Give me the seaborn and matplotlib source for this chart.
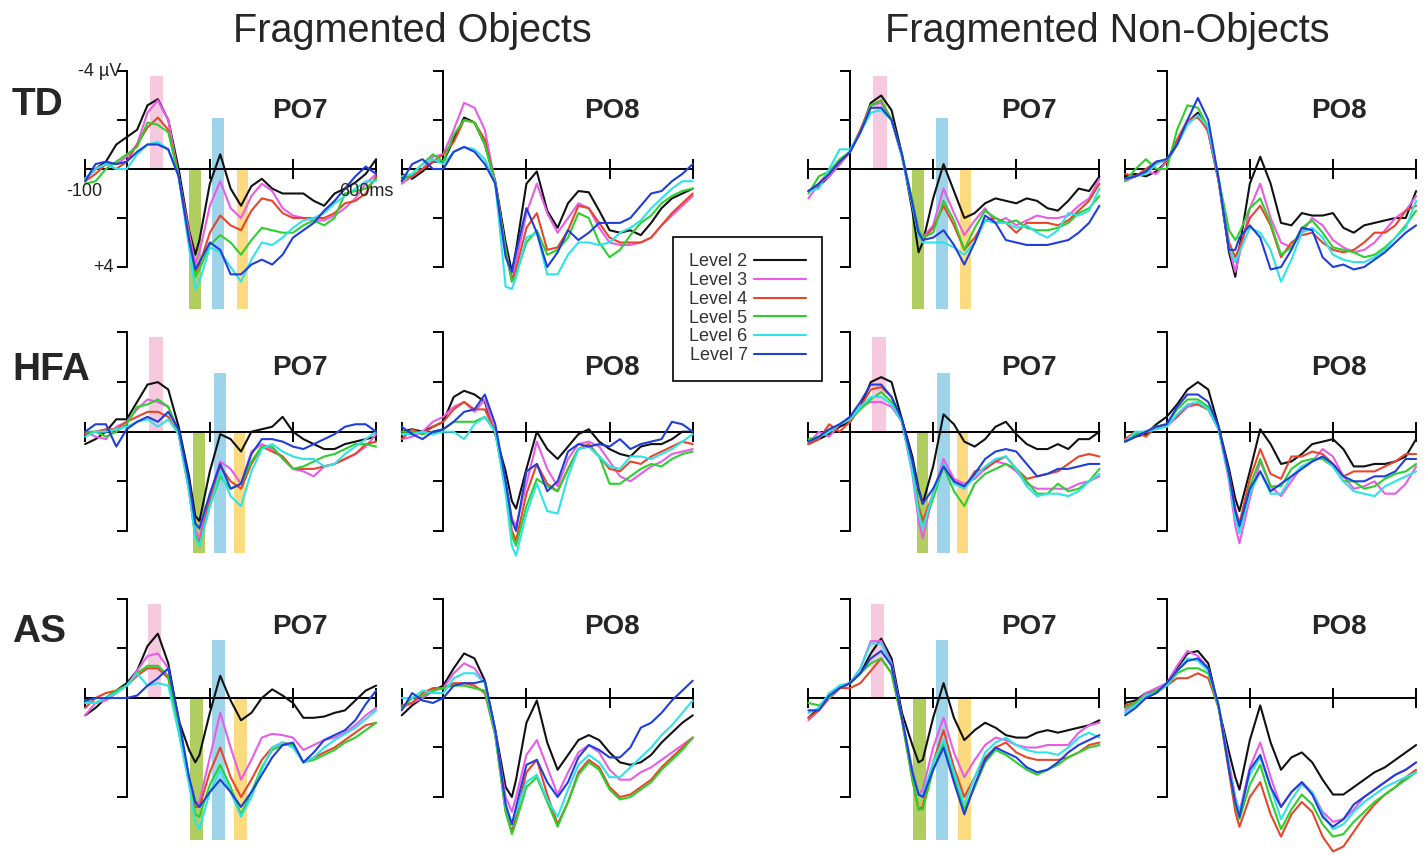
import numpy as np
import pandas as pd
import matplotlib
matplotlib.use("Agg")
import matplotlib.pyplot as plt
from matplotlib.lines import Line2D
import seaborn as sns

# ---------------- data ----------------
times = [-100, -75, -50, -25, 0, 25, 50, 75, 100, 125, 150, 165, 175, 200, 225, 250,
         275, 300, 325, 350, 375, 400, 425, 450, 475, 500, 525, 550, 575, 600]
levels = ["Level 2", "Level 3", "Level 4", "Level 5", "Level 6", "Level 7"]
level_colors = ["#111111", "#e85ce8", "#e8452a", "#2cd02c", "#2ee3e8", "#1f3edb"]

groups = ["TD", "HFA", "AS"]
conditions = ["Fragmented Objects", "Fragmented Non-Objects"]
electrodes = ["PO7", "PO8", "PO7", "PO8"]

td_obj_po7 = [
    [0.4, 0.0, -0.3, -1.0, -1.3, -1.6, -2.6, -2.85, -2.0, 0.0, 2.5, 3.5, 2.9, 0.6, -0.6, 0.8, 1.5, 0.7, 0.4, 0.8, 1.0, 1.0, 1.0, 1.3, 1.5, 1.0, 0.8, 0.55, 0.2, -0.4],
    [0.4, 0.0, -0.2, -0.2, -0.5, -1.0, -2.3, -2.8, -2.0, 0.3, 2.6, 3.9, 3.4, 1.5, 0.5, 1.6, 2.0, 1.1, 0.6, 0.9, 1.6, 1.9, 2.0, 2.1, 2.1, 1.9, 1.6, 1.2, 0.6, 0.2],
    [0.5, 0.2, -0.2, 0.0, -0.3, -1.0, -1.7, -2.1, -1.6, 0.3, 2.8, 4.2, 3.9, 2.6, 1.9, 2.3, 2.5, 1.7, 1.2, 1.3, 1.8, 2.0, 2.0, 2.0, 2.0, 1.8, 1.4, 1.3, 1.0, 0.3],
    [0.6, 0.5, 0.0, -0.3, -0.6, -0.9, -1.9, -1.8, -1.5, 0.3, 2.9, 4.4, 4.1, 3.1, 2.7, 3.0, 3.5, 2.9, 2.4, 2.5, 2.6, 2.6, 2.3, 2.1, 2.3, 2.0, 1.0, 0.9, 0.8, 0.4],
    [0.4, 0.0, -0.2, 0.0, 0.0, -0.6, -1.0, -1.1, -0.8, 0.3, 3.2, 4.9, 4.6, 3.2, 3.4, 4.0, 4.6, 3.7, 3.0, 3.1, 2.8, 2.4, 2.1, 2.0, 1.8, 1.4, 1.1, 0.8, 0.5, 0.5],
    [0.5, -0.2, -0.3, -0.2, -0.3, -0.7, -1.0, -1.0, -0.8, 0.3, 2.9, 4.1, 3.8, 3.0, 3.3, 4.3, 4.3, 3.9, 3.7, 3.9, 3.5, 2.8, 2.5, 2.2, 1.7, 1.3, 0.8, 0.3, -0.1, 0.2],
]
td_obj_po8 = [
    [0.2, 0.4, 0.1, -0.3, -0.3, -1.2, -2.1, -1.9, -1.0, 0.5, 3.0, 4.2, 3.3, 0.6, 0.1, 1.7, 2.4, 1.4, 0.9, 0.95, 1.7, 2.5, 2.6, 2.5, 2.7, 2.2, 1.6, 1.2, 1.0, 0.8],
    [0.6, 0.3, 0.0, -0.5, -0.6, -1.6, -2.7, -2.5, -1.6, 0.6, 3.4, 4.6, 3.8, 1.8, 0.6, 1.8, 2.6, 2.0, 1.4, 1.6, 2.4, 3.0, 3.1, 3.1, 3.0, 2.8, 2.3, 1.9, 1.5, 1.1],
    [0.4, 0.3, 0.0, -0.3, -0.6, -1.1, -2.0, -1.9, -1.2, 0.6, 3.3, 4.5, 4.1, 2.4, 1.8, 3.3, 3.2, 2.5, 1.5, 1.6, 2.2, 2.8, 3.0, 3.0, 3.0, 2.8, 2.3, 1.8, 1.4, 1.0],
    [0.5, 0.2, -0.2, -0.6, -0.3, -1.4, -2.0, -1.9, -1.0, 0.6, 3.3, 4.6, 4.3, 3.0, 2.5, 3.5, 3.3, 2.8, 1.8, 2.0, 3.0, 3.6, 3.3, 2.7, 2.2, 1.9, 1.4, 1.1, 0.9, 0.8],
    [0.3, 0.2, -0.2, -0.4, -0.2, -0.7, -0.9, -0.8, -0.4, 0.6, 4.8, 4.9, 4.4, 2.8, 2.6, 4.3, 4.3, 3.5, 3.0, 3.0, 3.1, 3.0, 2.6, 2.4, 2.1, 1.6, 1.2, 0.8, 0.5, 0.5],
    [0.5, -0.2, -0.4, 0.0, 0.0, -0.7, -0.9, -0.7, -0.2, 0.6, 3.6, 4.2, 3.4, 1.6, 2.6, 4.0, 3.4, 2.5, 2.9, 2.6, 2.2, 2.2, 2.2, 2.0, 1.5, 1.0, 0.9, 0.5, 0.2, -0.2],
]
td_non_po7 = [
    [0.9, 0.7, 0.3, -0.2, -0.7, -1.5, -2.7, -3.0, -2.4, -0.6, 1.7, 3.4, 3.0, 1.2, -0.2, 0.9, 2.0, 1.8, 1.4, 1.2, 1.3, 1.4, 1.2, 1.3, 1.6, 1.7, 1.3, 0.8, 0.9, 0.3],
    [1.2, 0.6, 0.3, -0.2, -0.7, -1.6, -2.6, -2.7, -2.0, -0.5, 1.3, 2.5, 2.8, 2.3, 0.8, 1.8, 2.7, 2.1, 1.6, 2.2, 2.0, 2.3, 2.1, 1.9, 2.0, 2.0, 1.9, 1.5, 1.2, 0.4],
    [0.9, 0.6, 0.1, -0.3, -0.7, -1.6, -2.6, -2.8, -2.0, -0.5, 1.4, 2.6, 2.9, 2.4, 1.5, 2.3, 3.3, 2.8, 2.1, 2.0, 2.2, 2.6, 2.2, 2.2, 2.2, 2.3, 2.1, 1.7, 1.3, 0.6],
    [1.0, 0.3, 0.1, -0.4, -0.7, -1.5, -2.6, -2.8, -2.0, -0.6, 1.3, 2.5, 2.8, 2.6, 1.3, 2.1, 3.3, 2.4, 1.7, 2.0, 2.2, 2.1, 2.4, 2.5, 2.5, 2.4, 2.2, 1.8, 1.6, 1.1],
    [0.9, 0.8, 0.0, -0.8, -0.8, -1.5, -2.3, -2.4, -2.0, -0.5, 1.5, 2.7, 3.0, 3.0, 3.0, 3.2, 3.5, 3.0, 2.1, 2.2, 2.2, 2.4, 2.3, 2.6, 2.8, 2.5, 1.8, 1.9, 1.7, 0.8],
    [0.9, 0.6, 0.2, -0.3, -0.7, -1.5, -2.5, -2.5, -2.0, -0.6, 1.4, 2.6, 2.9, 2.8, 2.5, 3.1, 3.9, 3.0, 1.9, 2.2, 2.9, 3.0, 3.1, 3.1, 3.1, 3.0, 2.9, 2.6, 2.2, 1.5],
]
td_non_po8 = [
    [0.3, 0.2, 0.3, 0.1, -0.3, -1.0, -1.9, -2.3, -1.5, 0.5, 3.4, 4.4, 3.2, 0.6, -0.5, 0.6, 2.2, 2.3, 1.8, 1.9, 1.9, 1.8, 2.4, 2.6, 2.3, 2.2, 2.1, 2.0, 2.0, 0.9],
    [0.5, 0.3, 0.1, 0.2, -0.3, -1.1, -1.9, -2.2, -1.5, 0.5, 3.2, 4.2, 3.5, 1.6, 0.6, 2.0, 3.0, 3.2, 2.6, 2.0, 2.3, 2.9, 3.2, 3.4, 3.3, 3.0, 2.5, 2.0, 1.7, 1.1],
    [0.2, 0.3, 0.0, -0.3, -0.3, -1.2, -2.0, -2.1, -1.6, 0.5, 3.0, 3.6, 3.2, 2.0, 1.5, 2.3, 3.6, 3.0, 2.7, 2.6, 3.0, 3.3, 3.4, 3.3, 3.0, 2.6, 2.6, 2.3, 1.7, 1.5],
    [0.5, 0.0, -0.4, 0.0, 0.0, -1.6, -2.6, -2.5, -1.7, 0.4, 2.5, 2.9, 2.6, 1.6, 1.2, 2.2, 3.5, 3.2, 2.4, 2.1, 2.6, 3.2, 3.3, 3.4, 3.6, 3.5, 3.2, 2.8, 2.3, 1.7],
    [0.4, 0.3, 0.2, -0.2, -0.4, -1.0, -1.8, -2.2, -1.7, 0.4, 3.2, 3.8, 3.4, 2.4, 2.6, 3.3, 4.6, 3.7, 2.6, 2.4, 2.8, 3.5, 3.7, 3.8, 3.8, 3.6, 3.3, 2.8, 2.4, 1.3],
    [0.4, 0.3, 0.1, -0.3, -0.4, -1.0, -2.0, -2.9, -2.0, 0.4, 3.3, 3.3, 2.8, 2.3, 2.8, 4.1, 4.0, 3.3, 2.4, 2.5, 3.6, 4.0, 3.9, 4.1, 4.0, 3.7, 3.4, 3.0, 2.6, 2.3],
]
hfa_obj_po7 = [
    [0.5, 0.3, 0.0, -0.5, -0.5, -1.2, -1.9, -2.0, -1.7, -0.2, 1.8, 3.4, 3.6, 1.6, 0.1, 0.3, 0.8, 0.0, -0.1, -0.2, -0.6, 0.0, 0.3, 0.5, 0.7, 0.7, 0.5, 0.4, 0.3, 0.2],
    [0.0, 0.2, 0.3, -0.2, -0.4, -0.9, -1.3, -1.2, -1.0, 0.0, 2.2, 4.0, 4.3, 2.6, 1.2, 1.5, 2.1, 0.8, 0.5, 0.7, 1.0, 1.5, 1.6, 1.8, 1.4, 1.3, 1.1, 0.9, 0.6, 0.1],
    [0.1, 0.0, -0.1, -0.1, -0.4, -0.6, -0.8, -0.8, -0.6, 0.1, 2.4, 4.2, 4.5, 2.8, 1.4, 2.0, 2.3, 1.3, 0.6, 0.8, 1.0, 1.5, 1.5, 1.5, 1.4, 1.3, 1.1, 0.9, 0.5, 0.4],
    [0.0, 0.0, 0.2, 0.0, -0.3, -1.0, -1.1, -1.3, -1.0, 0.0, 2.3, 4.2, 4.6, 3.0, 1.8, 2.3, 2.1, 1.2, 0.6, 0.6, 1.1, 1.5, 1.4, 1.2, 1.0, 0.9, 0.7, 0.5, 0.5, 0.6],
    [0.2, 0.0, 0.0, -0.1, -0.2, -0.4, -0.5, -0.2, -0.5, 0.1, 2.4, 4.3, 4.6, 3.0, 1.6, 2.6, 3.0, 1.6, 0.7, 0.5, 0.8, 1.0, 1.1, 1.1, 1.4, 1.3, 0.9, 0.6, 0.3, 0.0],
    [0.0, -0.3, -0.3, 0.6, -0.1, -0.4, -0.6, -0.4, -0.8, -0.1, 2.0, 3.7, 3.9, 2.5, 1.3, 2.3, 2.1, 0.9, 0.3, 0.3, 0.4, 0.6, 0.7, 0.5, 0.3, 0.1, -0.2, -0.3, -0.3, 0.0],
]
hfa_obj_po8 = [
    [0.0, -0.1, 0.0, -0.2, -0.4, -1.4, -1.65, -1.5, -1.2, 0.1, 1.6, 2.8, 3.1, 1.5, 0.0, 0.7, 1.1, 0.6, 0.1, -0.1, 0.4, 0.7, 0.9, 1.0, 0.6, 0.5, 0.5, 0.3, 0.0, 0.0],
    [0.3, 0.2, 0.0, -0.4, -0.6, -1.0, -1.2, -0.8, -1.3, 0.0, 2.0, 3.5, 3.8, 2.1, 0.4, 1.5, 2.2, 1.1, 0.5, 0.4, 0.6, 1.2, 1.8, 2.0, 1.7, 1.4, 1.2, 0.9, 0.8, 0.7],
    [0.3, -0.1, 0.1, -0.2, -0.4, -0.9, -1.2, -0.9, -0.9, 0.0, 2.3, 4.0, 4.4, 2.5, 1.3, 2.1, 2.4, 1.5, 0.7, 0.5, 1.0, 1.5, 1.6, 1.2, 1.3, 1.0, 0.8, 0.6, 0.4, 0.5],
    [0.0, 0.0, 0.1, 0.0, -0.1, -0.4, -0.4, -0.4, -0.6, 0.0, 2.3, 4.2, 4.6, 3.0, 1.9, 2.2, 2.4, 1.5, 0.7, 0.6, 1.0, 2.1, 2.1, 1.8, 1.5, 1.3, 1.4, 1.1, 0.9, 0.8],
    [0.1, 0.1, 0.0, 0.1, 0.0, 0.0, 0.3, -0.3, -0.6, 0.0, 2.5, 4.6, 5.0, 3.3, 2.1, 3.2, 3.3, 1.8, 0.7, 0.6, 1.0, 1.4, 1.5, 1.0, 1.0, 1.1, 0.9, 0.7, 0.4, 0.1],
    [-0.2, 0.1, 0.3, 0.0, -0.1, -0.4, -0.8, -0.9, -1.5, -0.3, 2.0, 3.6, 4.0, 1.6, 1.3, 2.4, 2.0, 0.8, 0.5, 0.6, 0.5, 0.6, 0.3, 0.7, 0.5, 0.4, 0.3, -0.4, -0.3, 0.0],
]
hfa_non_po7 = [
    [0.5, 0.3, 0.1, -0.2, -0.4, -1.0, -2.0, -2.2, -2.0, -0.5, 1.0, 2.3, 2.9, 1.4, -0.7, -0.3, 0.4, 0.6, 0.3, -0.2, -0.4, 0.1, 0.5, 0.7, 0.7, 0.5, 0.7, 0.3, 0.3, 0.0],
    [0.5, 0.0, 0.2, -0.3, -0.5, -1.0, -1.2, -1.2, -1.0, -0.4, 1.7, 3.6, 4.3, 2.5, 1.1, 1.9, 2.1, 1.9, 1.5, 1.2, 1.3, 1.6, 2.1, 2.3, 2.3, 2.3, 2.3, 2.1, 2.0, 1.8],
    [0.5, 0.3, -0.3, 0.0, -0.4, -1.0, -1.7, -1.8, -1.4, -0.4, 1.5, 3.0, 3.6, 2.5, 1.4, 2.0, 2.3, 1.6, 1.5, 1.2, 1.0, 1.5, 1.9, 1.8, 1.7, 1.6, 1.3, 1.0, 0.9, 1.0],
    [0.3, 0.2, 0.0, -0.3, -0.5, -0.9, -1.3, -1.6, -1.2, -0.4, 1.5, 3.2, 3.8, 2.7, 1.4, 2.4, 3.0, 2.1, 1.7, 1.5, 1.3, 1.5, 2.0, 2.5, 2.5, 2.1, 2.4, 2.3, 2.0, 1.5],
    [0.4, 0.2, 0.0, -0.3, -0.5, -1.0, -1.4, -1.4, -1.1, -0.4, 1.6, 3.3, 3.9, 2.5, 1.3, 2.1, 2.3, 1.8, 1.4, 1.1, 1.0, 1.5, 2.2, 2.6, 2.5, 2.5, 2.6, 2.4, 2.0, 1.7],
    [0.4, 0.2, -0.1, -0.3, -0.6, -1.2, -1.9, -1.9, -1.4, -0.5, 1.2, 2.4, 2.9, 2.3, 1.4, 2.0, 2.2, 1.7, 1.1, 0.8, 0.7, 0.8, 1.3, 1.8, 1.7, 1.5, 1.5, 1.4, 1.3, 1.3],
]
hfa_non_po8 = [
    [0.4, 0.2, 0.1, -0.3, -0.6, -1.1, -1.7, -2.0, -1.7, -0.2, 1.5, 2.7, 3.2, 1.6, -0.1, 0.5, 1.3, 1.2, 0.9, 0.5, 0.4, 0.3, 0.7, 1.4, 1.4, 1.3, 1.3, 1.2, 1.0, 0.3],
    [0.3, 0.1, 0.0, -0.2, -0.2, -0.6, -1.0, -1.1, -0.9, -0.1, 2.0, 3.8, 4.5, 2.7, 1.2, 2.2, 2.6, 2.0, 1.4, 1.2, 0.7, 1.0, 1.8, 2.3, 2.2, 2.0, 2.5, 2.5, 2.1, 1.4],
    [0.3, 0.0, 0.2, -0.2, -0.3, -0.6, -1.1, -1.1, -0.9, -0.1, 1.7, 3.1, 3.7, 1.9, 0.7, 1.7, 1.9, 1.0, 1.0, 0.8, 0.9, 1.3, 1.8, 1.6, 1.6, 1.6, 1.4, 1.2, 0.9, 0.9],
    [0.4, 0.1, 0.0, -0.2, -0.3, -0.9, -1.3, -1.3, -1.0, -0.1, 1.8, 3.4, 4.0, 2.2, 1.1, 2.2, 2.2, 1.5, 1.2, 1.1, 1.1, 1.4, 2.0, 2.0, 2.3, 2.2, 1.9, 1.7, 1.6, 1.3],
    [0.4, 0.0, 0.0, -0.1, -0.2, -0.7, -1.1, -1.2, -0.9, -0.1, 1.9, 3.5, 4.1, 2.5, 1.6, 2.5, 2.5, 1.8, 1.4, 1.2, 1.0, 1.4, 2.0, 2.4, 2.5, 2.6, 2.2, 2.0, 1.8, 1.6],
    [0.4, 0.2, 0.0, -0.2, -0.3, -1.0, -1.5, -1.5, -1.2, -0.2, 1.7, 3.2, 3.8, 2.3, 1.6, 2.4, 2.1, 1.8, 1.5, 1.2, 1.0, 1.3, 1.8, 2.0, 2.0, 1.8, 1.8, 1.6, 1.1, 1.1],
]
as_obj_po7 = [
    [0.7, 0.4, 0.0, -0.3, -0.6, -1.1, -2.1, -2.6, -1.4, 0.9, 2.1, 2.6, 2.3, 0.6, -0.9, 0.1, 0.9, 0.6, 0.0, -0.35, -0.1, 0.2, 0.8, 0.8, 0.75, 0.6, 0.5, 0.1, -0.3, -0.5],
    [0.7, 0.2, 0.1, -0.2, -0.5, -1.1, -1.7, -1.8, -1.2, 1.2, 3.2, 4.2, 4.2, 2.4, 0.6, 2.0, 3.3, 2.5, 1.6, 1.45, 1.5, 1.6, 2.1, 1.9, 1.7, 1.6, 1.4, 1.1, 0.7, 0.4],
    [0.4, 0.0, -0.2, -0.3, -0.5, -0.9, -1.2, -1.2, -0.8, 1.3, 3.3, 4.4, 4.4, 3.0, 2.0, 3.2, 4.0, 3.3, 2.5, 2.0, 1.8, 1.9, 2.6, 2.4, 2.2, 2.0, 1.7, 1.4, 1.1, 1.0],
    [0.1, 0.2, 0.0, -0.3, -0.5, -1.0, -1.3, -1.3, -0.9, 1.3, 3.4, 4.7, 4.8, 3.5, 2.7, 3.6, 4.7, 3.8, 2.8, 2.1, 1.9, 1.9, 2.6, 2.5, 2.3, 2.1, 1.8, 1.6, 1.3, 1.0],
    [0.2, 0.2, 0.0, -0.2, -0.5, -1.0, -0.5, -0.6, -0.5, 1.4, 3.5, 5.0, 5.3, 3.8, 2.9, 3.8, 4.8, 4.0, 2.9, 2.0, 1.8, 2.0, 2.6, 2.4, 2.0, 1.7, 1.45, 1.2, 0.85, 0.5],
    [0.1, 0.0, 0.0, 0.0, 0.0, -0.1, -0.5, -0.8, -1.2, 0.8, 3.2, 4.2, 4.4, 3.8, 3.3, 3.8, 4.4, 3.8, 3.1, 2.4, 1.9, 1.8, 2.6, 2.2, 1.7, 1.5, 1.3, 0.9, 0.25, -0.3],
]
as_obj_po8 = [
    [0.7, 0.3, 0.0, -0.3, -0.5, -1.2, -1.8, -1.6, -0.7, 1.3, 3.6, 4.0, 3.3, 1.0, 0.1, 1.8, 2.9, 2.3, 1.7, 1.5, 1.7, 2.2, 2.6, 2.7, 2.6, 2.3, 1.8, 1.4, 1.0, 0.7],
    [0.4, 0.2, 0.0, -0.3, -0.4, -1.0, -1.4, -1.2, -0.6, 1.4, 4.0, 4.6, 4.0, 2.3, 1.7, 2.8, 3.9, 3.0, 2.2, 1.9, 2.2, 2.9, 3.3, 3.3, 3.0, 2.8, 2.5, 2.2, 1.9, 1.6],
    [0.3, 0.2, -0.2, -0.4, -0.4, -0.6, -0.6, -0.5, -0.2, 1.5, 4.6, 5.4, 4.8, 3.0, 2.5, 3.9, 5.1, 4.2, 3.0, 2.5, 2.8, 3.6, 4.0, 3.9, 3.6, 3.3, 2.8, 2.4, 2.0, 1.6],
    [0.4, 0.0, -0.1, -0.3, -0.4, -0.5, -0.5, -0.4, -0.3, 1.5, 4.6, 5.5, 5.0, 3.6, 3.2, 4.2, 5.2, 4.2, 3.1, 2.6, 2.9, 3.7, 4.1, 4.0, 3.7, 3.4, 2.9, 2.5, 2.1, 1.6],
    [0.0, 0.0, -0.3, -0.2, -0.2, -0.8, -1.0, -1.0, -0.6, 1.4, 4.4, 5.1, 4.6, 3.4, 3.1, 4.1, 4.8, 3.7, 2.7, 2.3, 2.6, 3.2, 3.2, 2.8, 2.4, 2.0, 1.5, 1.1, 0.6, 0.1],
    [0.5, -0.2, 0.1, 0.2, 0.0, -0.5, -0.6, -0.6, -0.7, 1.3, 4.3, 5.1, 4.4, 2.7, 2.5, 3.4, 4.0, 3.4, 2.4, 1.9, 2.1, 2.4, 2.4, 2.0, 1.2, 1.0, 0.6, 0.1, -0.3, -0.7],
]
as_non_po7 = [
    [0.8, 0.4, 0.0, -0.4, -0.6, -1.0, -1.8, -2.4, -1.6, 0.6, 1.9, 2.6, 2.5, 0.8, -0.6, 0.8, 1.7, 1.3, 1.0, 1.2, 1.5, 1.6, 1.6, 1.4, 1.3, 1.4, 1.3, 1.2, 1.1, 0.9],
    [0.9, 0.5, 0.0, -0.4, -0.6, -1.2, -2.3, -2.3, -1.4, 0.8, 2.9, 3.9, 3.7, 2.0, 0.8, 2.2, 3.2, 2.5, 1.9, 1.6, 1.7, 1.9, 2.0, 2.0, 1.9, 1.9, 1.9, 1.4, 1.1, 1.0],
    [0.8, 0.5, 0.0, -0.4, -0.4, -0.6, -1.1, -1.6, -1.0, 0.9, 3.3, 4.5, 4.4, 2.6, 1.3, 2.8, 4.0, 3.2, 2.4, 2.0, 1.8, 2.2, 2.4, 2.5, 2.5, 2.5, 2.4, 2.2, 1.9, 1.8],
    [0.2, 0.3, 0.0, -0.5, -0.6, -1.0, -1.4, -1.6, -1.0, 0.9, 3.3, 4.5, 4.5, 2.9, 1.8, 3.2, 4.5, 3.6, 2.6, 2.1, 2.3, 2.6, 2.9, 3.1, 2.9, 2.7, 2.4, 2.2, 2.0, 1.9],
    [0.6, 0.4, -0.2, -0.5, -0.6, -1.2, -2.2, -2.2, -1.3, 0.8, 3.0, 3.9, 3.9, 2.6, 1.7, 3.0, 4.3, 3.2, 2.2, 1.8, 1.6, 1.9, 2.1, 2.2, 2.2, 2.3, 2.0, 1.6, 1.4, 1.6],
    [0.5, 0.5, -0.1, -0.4, -0.6, -1.0, -1.6, -1.9, -1.3, 0.8, 3.0, 3.9, 4.0, 2.9, 2.0, 3.4, 4.7, 3.5, 2.5, 2.0, 2.2, 2.4, 2.8, 3.0, 2.9, 2.6, 2.2, 1.9, 1.7, 1.5],
]
as_non_po8 = [
    [0.2, 0.1, -0.2, -0.3, -0.5, -1.2, -1.8, -1.9, -1.4, 0.4, 2.2, 3.2, 3.7, 1.7, 0.3, 1.8, 2.9, 2.4, 2.2, 2.6, 3.3, 3.9, 3.9, 3.6, 3.3, 3.0, 2.8, 2.5, 2.2, 1.9],
    [0.5, 0.2, -0.2, -0.4, -0.6, -1.3, -1.9, -1.7, -1.2, 0.4, 2.6, 4.0, 4.6, 2.8, 1.8, 3.2, 4.4, 3.8, 3.4, 3.8, 4.6, 5.0, 4.9, 4.5, 4.0, 3.7, 3.4, 3.1, 2.9, 2.6],
    [0.3, 0.2, -0.1, -0.3, -0.5, -0.8, -0.8, -1.0, -0.8, 0.4, 3.0, 4.6, 5.2, 4.0, 3.4, 4.7, 5.6, 4.7, 4.2, 4.6, 5.6, 6.2, 6.0, 5.4, 4.8, 4.3, 3.9, 3.6, 3.2, 2.9],
    [0.4, 0.2, -0.1, -0.3, -0.5, -1.0, -1.2, -1.2, -1.0, 0.4, 2.8, 4.3, 4.9, 3.5, 2.7, 4.1, 5.3, 4.5, 3.9, 4.3, 5.1, 5.6, 5.5, 5.0, 4.6, 4.2, 3.9, 3.6, 3.3, 3.0],
    [0.6, 0.3, -0.1, -0.2, -0.5, -1.1, -1.6, -1.5, -1.1, 0.3, 2.8, 4.1, 4.6, 3.1, 2.4, 3.6, 4.9, 4.1, 3.5, 3.8, 4.7, 5.3, 5.1, 4.6, 4.2, 3.9, 3.6, 3.4, 3.2, 3.0],
    [0.7, 0.4, 0.0, -0.2, -0.6, -1.1, -1.5, -1.6, -1.2, 0.3, 2.9, 4.2, 4.8, 2.9, 2.3, 3.6, 4.4, 3.8, 3.4, 3.9, 4.8, 5.2, 4.9, 4.3, 4.0, 3.7, 3.4, 3.1, 2.9, 2.6],
]

# shaded analysis windows (ms) per group: P1, N1, P2, N2
td_windows = [(55, 88), (150, 178), (206, 235), (265, 291)]
hfa_windows = [(53, 87), (160, 188), (209, 240), (257, 285)]
as_windows = [(51, 82), (152, 183), (206, 236), (259, 290)]
window_colors = ["#f7c3dc", "#a6c94e", "#92d0e8", "#fcd772"]

# ---------------- style ----------------
sns.set_theme(style="white")
plt.rcParams["font.family"] = ["Liberation Sans", "DejaVu Sans"]

W, H = 1427, 855
fig = plt.figure(figsize=(W / 100, H / 100), dpi=100)
fig.patch.set_facecolor("white")

col_zero_x = [126.7, 443.3, 850.0, 1166.7]
row_zero_y = [169.0, 431.7, 698.0]
row_scale = [24.5, 24.8, 24.75]
px_ms = 291.0 / 700.0
T0, T1 = -115, 615
V0, V1 = -5.5, 7.5

panel_data = [
    [td_obj_po7, td_obj_po8, td_non_po7, td_non_po8],
    [hfa_obj_po7, hfa_obj_po8, hfa_non_po7, hfa_non_po8],
    [as_obj_po7, as_obj_po8, as_non_po7, as_non_po8],
]
row_windows = [td_windows, hfa_windows, as_windows]
row_bar_bottom = [5.7, 4.9, 5.75]
row_blue_top = [-2.1, -2.35, -2.35]

first_ax = None
for r in range(3):
    for c in range(4):
        zx, zy, s = col_zero_x[c], row_zero_y[r], row_scale[r]
        left = (zx + T0 * px_ms) / W
        width = (T1 - T0) * px_ms / W
        top_px = zy + V0 * s
        bot_px = zy + V1 * s
        ax = fig.add_axes([left, 1 - bot_px / H, width, (bot_px - top_px) / H])
        ax.patch.set_alpha(0)

        # shaded windows on PO7 panels
        if electrodes[c] == "PO7":
            tops = [-3.8, 0.0, row_blue_top[r], 0.0]
            bots = [0.0, row_bar_bottom[r], row_bar_bottom[r], row_bar_bottom[r]]
            for (a, b), tp, bt, col in zip(row_windows[r], tops, bots, window_colors):
                ax.bar((a + b) / 2, bt - tp, bottom=tp, width=b - a, color=col,
                       linewidth=0, zorder=1, alpha=0.9)

        series = panel_data[r][c]
        df = pd.DataFrame({
            "time": np.tile(times, len(levels)),
            "uV": np.concatenate(series),
            "level": np.repeat(levels, len(times)),
        })
        sns.lineplot(data=df, x="time", y="uV", hue="level", hue_order=levels,
                     palette=level_colors, legend=False, ax=ax, linewidth=1.5,
                     estimator=None, sort=False, zorder=3)
        ax.set_xlabel("")
        ax.set_ylabel("")
        ax.set_xlim(T0, T1)
        ax.set_ylim(V1, V0)

        for sp in ["top", "right"]:
            ax.spines[sp].set_visible(False)
        ax.spines["left"].set_position(("data", 0))
        ax.spines["left"].set_bounds(-4, 4)
        ax.spines["bottom"].set_position(("data", 0))
        ax.spines["bottom"].set_bounds(-100, 600)
        for sp in ["left", "bottom"]:
            ax.spines[sp].set_linewidth(1.4)
            ax.spines[sp].set_color("black")
            ax.spines[sp].set_zorder(2)
        ax.set_yticks([-4, -2, 2, 4])
        ax.set_yticklabels([])
        ax.set_xticks([-100, 200, 400, 600])
        ax.set_xticklabels([])
        ax.tick_params(axis="y", which="major", direction="out", length=7, width=1.4,
                       left=True, color="black")
        ax.tick_params(axis="x", which="major", direction="inout", length=15, width=1.4,
                       bottom=True, color="black")
        if r == 0 and c == 0:
            first_ax = ax

# axis annotations on first panel
lab_kw = dict(fontsize=13, color="#222222")
first_ax.text(-12, -4, "-4 \u00b5V", ha="right", va="center", **lab_kw)
first_ax.text(-32, 4, "+4", ha="right", va="center", **lab_kw)
first_ax.text(-102, 0.9, "-100", ha="center", va="center", **lab_kw)
first_ax.text(576, 0.9, "600ms", ha="center", va="center", **lab_kw)

# titles
fig.text(412 / W, 1 - 31 / H, conditions[0], ha="center", va="center", fontsize=28.5)
fig.text(1107 / W, 1 - 31 / H, conditions[1], ha="center", va="center", fontsize=28.5)

# group labels
for g, yc in zip(groups, [105, 370, 632]):
    fig.text(12 / W, 1 - yc / H, g, ha="left", va="center", fontsize=28, fontweight="bold")

# electrode labels
po_x = [300, 611.5, 1028.5, 1338.5]
po_y = [111, 368, 627]
for r in range(3):
    for c in range(4):
        fig.text(po_x[c] / W, 1 - po_y[r] / H, electrodes[c], ha="center", va="center",
                 fontsize=20, fontweight="bold")

# legend
handles = [Line2D([0], [0], color=col, lw=1.5) for col in level_colors]
leg = fig.legend(handles, levels, loc="upper left",
                 bbox_to_anchor=(673 / W, 1 - 237 / H), bbox_transform=fig.transFigure,
                 markerfirst=False, fancybox=False, edgecolor="black", framealpha=1,
                 fontsize=13, handlelength=2.9, handletextpad=0.35, labelspacing=0.1,
                 borderpad=0.9, borderaxespad=0)
leg.get_frame().set_linewidth(1.2)
for t in leg.get_texts():
    t.set_color("#333333")

fig.savefig("out.png", dpi=100, facecolor="white")
